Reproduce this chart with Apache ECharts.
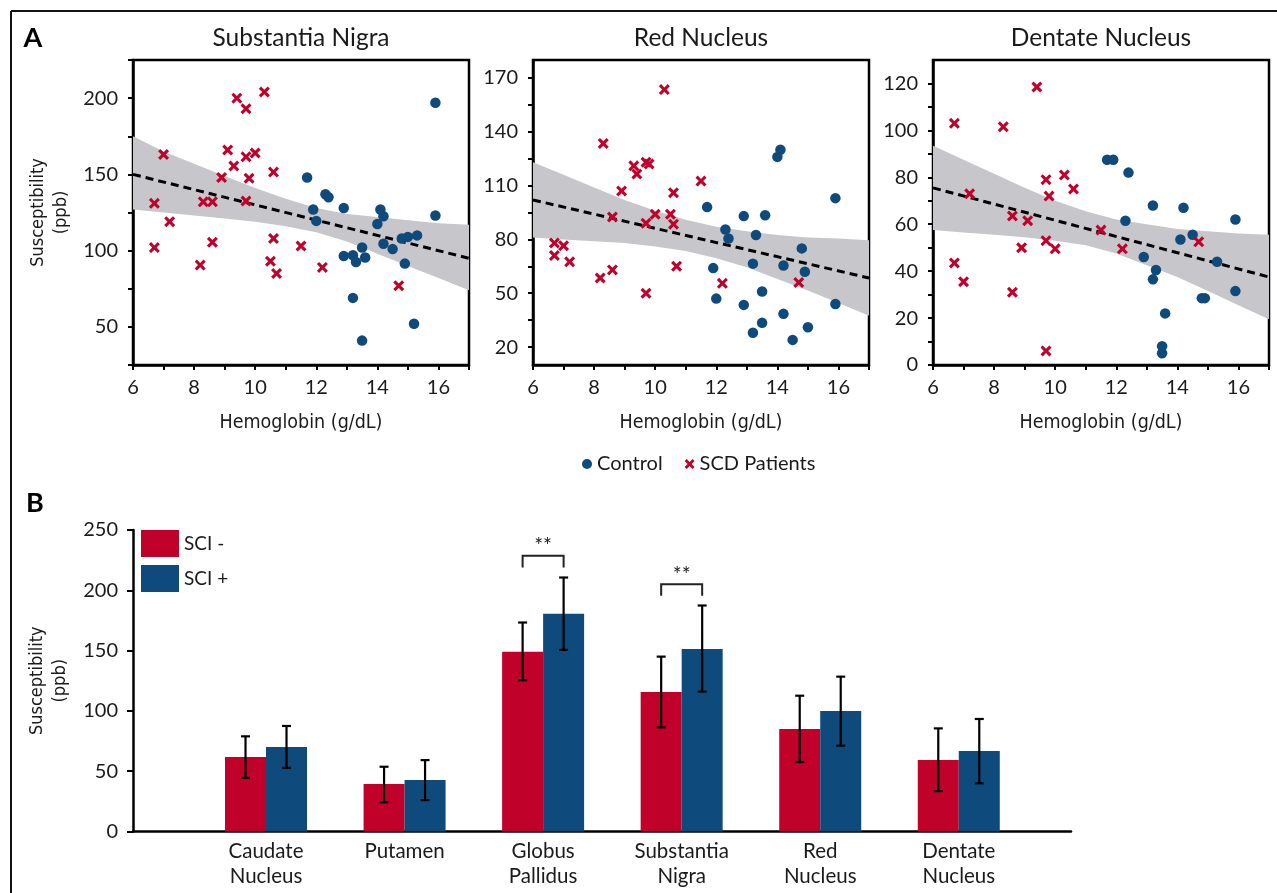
<!DOCTYPE html>
<html>
<head>
<meta charset="utf-8">
<script src="https://cdn.jsdelivr.net/npm/echarts@6/dist/echarts.min.js"></script>
<style>
  html, body { margin: 0; padding: 0; background: #fff; }
  #chart { width: 1277px; height: 893px; }
</style>
</head>
<body>
<div id="chart"></div>
<script>
// ---------------- DATA ----------------
const panelTitles = ['Substantia Nigra', 'Red Nucleus', 'Dentate Nucleus'];
const xAxisName = 'Hemoglobin (g/dL)';
const yAxisName = 'Susceptibility\n(ppb)';
const seriesNames = ['Control', 'SCD Patients'];

// Substantia Nigra  [hemoglobin, susceptibility]
const snControl = [[15.9,197],[11.7,148],[12.3,137],[12.4,135],[11.9,127],[12.9,128],[14.1,127],[14.2,122.5],[15.9,123],[12.0,119.5],[14.0,117.5],[15.3,110],[15.0,109],[14.8,108],[13.5,102],[14.2,104.5],[14.5,101],[12.9,96.5],[13.2,97],[13.3,92.5],[13.6,95.5],[14.9,91.5],[13.2,69],[15.2,52],[13.5,41]];
const snSCD = [[10.3,204],[9.4,200],[9.7,193],[7.0,163],[9.1,166],[10.0,164],[9.7,161.5],[9.3,155.5],[10.6,151.5],[8.9,148],[9.8,147.5],[6.7,131],[8.3,132],[8.6,132],[9.7,132.5],[7.2,119],[8.6,105.5],[10.6,108],[11.5,103],[6.7,102],[8.2,90.5],[10.5,93],[12.2,89],[10.7,85],[14.7,77]];
// Red Nucleus
const rnControl = [[14.1,130],[14.0,126],[15.9,103],[11.7,98],[12.9,93],[13.6,93.5],[12.3,85.5],[12.4,80.5],[13.3,82.5],[14.8,75],[11.9,64],[13.2,66.5],[14.2,65.5],[14.9,62],[12.0,47],[13.5,51],[12.9,43.5],[15.9,44],[14.2,38.5],[13.5,33.5],[15.0,31],[13.2,28],[14.5,24]];
const rnSCD = [[10.3,163.5],[8.3,133.5],[9.3,121],[9.7,123],[9.8,122],[9.4,116.5],[11.5,112.5],[8.9,107],[10.6,106],[8.6,92.5],[10.0,94],[10.5,94],[9.7,89],[10.6,88.5],[6.7,78],[7.0,76.5],[6.7,71],[7.2,67.5],[10.7,65],[8.6,63],[8.2,58.5],[12.2,55.5],[14.7,56],[9.7,50]];
// Dentate Nucleus
const dnControl = [[11.7,87.5],[11.9,87.5],[12.4,82],[13.2,68],[14.2,67],[15.9,62],[12.3,61.5],[14.5,55.5],[14.1,53.5],[12.9,46],[15.3,44],[13.3,40.5],[13.2,36.5],[15.9,31.5],[14.8,28.5],[14.9,28.5],[13.6,22],[13.5,8],[13.5,5]];
const dnSCD = [[9.4,118.5],[6.7,103],[8.3,101.5],[10.3,81],[9.7,79],[10.6,75],[7.2,73],[9.8,72],[8.6,63.5],[9.1,61.5],[11.5,57.5],[9.7,53],[14.7,52.5],[8.9,50],[10.0,49.5],[12.2,49.5],[6.7,43.5],[7.0,35.5],[8.6,31],[9.7,6]];

// regression fit lines (end points) and confidence bands
const bandX = [6,7,8,9,10,11,12,13,14,15,16,17];
const snFit = [[6,150],[17,95]];
const snBandLower = [127,125,123,121,119,116,112,106,98,90,82,74];
const snBandUpper = [175,165,157,149,141,134,128,124,122,120,118,117];
const rnFit = [[6,102],[17,58.5]];
const rnBandLower = [81,80,79,78,76,73.5,69.5,64.5,58,51.5,44.5,37.5];
const rnBandUpper = [123,116,109,102,96,91,87,84.5,82.5,81,80.5,79.5];
const dnFit = [[6,75.5],[17,37.5]];
const dnBandLower = [57.5,56.5,55.5,54.5,53,51,47.5,42.5,37.5,31.5,25.5,19.5];
const dnBandUpper = [93.5,87.5,81.5,75.5,70,65.5,62,60,58,57,56,55.5];

// axis settings
const xTickValues = [6,8,10,12,14,16];
const yRanges = [[25,225],[10,180],[0,130]];
const yLabelValues = [[50,100,150,200],[20,50,80,110,140,170],[0,20,40,60,80,100,120]];
const yTickValues = [[25,50,75,100,125,150,175,200,225],[20,35,50,65,80,95,110,125,140,155,170],[0,10,20,30,40,50,60,70,80,90,100,110,120]];

// Panel B
const barCategories = ['Caudate\nNucleus','Putamen','Globus\nPallidus','Substantia\nNigra','Red\nNucleus','Dentate\nNucleus'];
const barPositions = [1,2,3,4,5,6];
const barGroupNames = ['SCI -','SCI +'];
const sciNeg = [61.7,39.3,149,115.7,85,59.3];
const sciNegErr = [[44.5,78.9],[24.3,53.7],[125.4,173.3],[86.4,145],[57.6,112.6],[33.5,85.5]];
const sciPos = [70,42.6,180.5,151.4,99.9,66.7];
const sciPosErr = [[52.8,87.5],[26,59.2],[150.6,210.6],[116,187.4],[71.1,128.4],[40,93.3]];
// significance brackets: [position, top level, leg bottom]
const sigBrackets = [[3,228.7,219],[4,205,195.4]];
const sigLabel = '**';

// ---------------- STYLE ----------------
const RED = '#C0022B';
const BLUE = '#0F4A7D';
const BAND = '#C7C6CA';
const TXT = '#1a1a1a';
const FONT = "Lato, 'Open Sans', 'Noto Sans', sans-serif";
const NARROW = "'Liberation Sans Narrow', 'DejaVu Sans Condensed', 'Noto Sans', sans-serif";
const XSYM = 'path://M2,0 L5,3 L8,0 L10,2 L7,5 L10,8 L8,10 L5,7 L2,10 L0,8 L3,5 L0,2 Z';

const zip = (xs, ys) => xs.map((x, i) => [x, ys[i]]);

const panels = [
  {control: snControl, scd: snSCD, fit: snFit, lo: snBandLower, up: snBandUpper},
  {control: rnControl, scd: rnSCD, fit: rnFit, lo: rnBandLower, up: rnBandUpper},
  {control: dnControl, scd: dnSCD, fit: dnFit, lo: dnBandLower, up: dnBandUpper}
];
const gridLefts = [133, 533, 933];

function bandRender(rows) {
  // draws the whole confidence band once, from rows [x, lower, upper]
  return function (params, api) {
    if (params.dataIndex !== 0) return null;
    const upper = rows.map(r => api.coord([r[0], r[2]]));
    const lower = rows.map(r => api.coord([r[0], r[1]])).reverse();
    return {type: 'polygon', shape: {points: upper.concat(lower)}, style: {fill: BAND, stroke: null}};
  };
}

const grids = [], xAxes = [], yAxes = [], series = [];
panels.forEach((p, i) => {
  grids.push({left: gridLefts[i], top: 60, width: 336, height: 305, show: true,
    borderColor: '#000', borderWidth: 2.5, backgroundColor: 'transparent'});
  xAxes.push({
    type: 'value', gridIndex: i, min: 6, max: 17, interval: 1,
    axisLine: {show: true, lineStyle: {color: '#000', width: 2.5}},
    axisTick: {show: true, length: 5, lineStyle: {color: '#000', width: 2}},
    axisLabel: {color: TXT, fontSize: 20, fontFamily: FONT, margin: 13,
      formatter: v => xTickValues.indexOf(v) >= 0 ? String(v) : ''},
    splitLine: {show: false},
    name: xAxisName, nameLocation: 'middle', nameGap: 48,
    nameTextStyle: {color: TXT, fontSize: 19.5, fontFamily: NARROW}
  });
  const ya = {
    type: 'value', gridIndex: i, min: yRanges[i][0], max: yRanges[i][1],
    axisLine: {show: true, lineStyle: {color: '#000', width: 2.5}},
    axisTick: {show: true, length: 5, lineStyle: {color: '#000', width: 2}, customValues: yTickValues[i]},
    axisLabel: {color: TXT, fontSize: 20, fontFamily: FONT, margin: 15, customValues: yLabelValues[i]},
    splitLine: {show: false}
  };
  if (i === 0) {
    ya.name = yAxisName; ya.nameLocation = 'middle'; ya.nameRotate = 90; ya.nameGap = 60;
    ya.nameTextStyle = {color: TXT, fontSize: 18, fontFamily: NARROW, lineHeight: 23};
  }
  yAxes.push(ya);
  const rows = bandX.map((x, k) => [x, p.lo[k], p.up[k]]);
  series.push({type: 'custom', xAxisIndex: i, yAxisIndex: i, data: rows, encode: {x: 0, y: [1, 2]},
    renderItem: bandRender(rows), silent: true, z: 1, clip: true});
  series.push({type: 'line', xAxisIndex: i, yAxisIndex: i, data: p.fit, symbol: 'none',
    lineStyle: {color: '#000', width: 3, type: [8, 5]}, silent: true, z: 2});
  series.push({type: 'scatter', name: seriesNames[0], xAxisIndex: i, yAxisIndex: i, data: p.control,
    symbol: 'circle', symbolSize: 10.5, itemStyle: {color: BLUE, opacity: 1}, z: 3});
  series.push({type: 'scatter', name: seriesNames[1], xAxisIndex: i, yAxisIndex: i, data: p.scd,
    symbol: XSYM, symbolSize: 11, itemStyle: {color: RED, opacity: 1}, z: 3});
});

// Panel B grid
grids.push({left: 133, top: 530, width: 938, height: 301.5});
xAxes.push({
  type: 'value', gridIndex: 3, min: 0.04, max: 6.81,
  axisLine: {show: true, onZero: false, lineStyle: {color: '#000', width: 2.5}},
  axisTick: {show: false},
  axisLabel: {color: TXT, fontSize: 20.5, fontFamily: FONT, lineHeight: 25, margin: 7,
    customValues: barPositions,
    formatter: v => { const k = barPositions.indexOf(v); return k >= 0 ? barCategories[k] : ''; }},
  splitLine: {show: false}
});
yAxes.push({
  type: 'value', gridIndex: 3, min: 0, max: 250, interval: 50,
  axisLine: {show: true, lineStyle: {color: '#000', width: 2.5}},
  axisTick: {show: true, length: 6, lineStyle: {color: '#000', width: 2}},
  axisLabel: {color: TXT, fontSize: 20, fontFamily: FONT, margin: 15},
  splitLine: {show: false},
  name: yAxisName, nameLocation: 'middle', nameRotate: 90, nameGap: 60,
  nameTextStyle: {color: TXT, fontSize: 18, fontFamily: NARROW, lineHeight: 23}
});

const BAR_W = 41;
series.push({type: 'bar', name: barGroupNames[0], xAxisIndex: 3, yAxisIndex: 3, data: zip(barPositions, sciNeg),
  barWidth: BAR_W, barGap: '0%', itemStyle: {color: RED}, z: 2});
series.push({type: 'bar', name: barGroupNames[1], xAxisIndex: 3, yAxisIndex: 3, data: zip(barPositions, sciPos),
  barWidth: BAR_W, barGap: '0%', itemStyle: {color: BLUE}, z: 2});

function errRender(offset) {
  return function (params, api) {
    const x = api.value(0);
    const a = api.coord([x, api.value(1)]);
    const b = api.coord([x, api.value(2)]);
    const cx = a[0] + offset, cap = 4.5;
    const st = {stroke: '#000', lineWidth: 2.2};
    return {type: 'group', children: [
      {type: 'line', shape: {x1: cx, y1: a[1], x2: cx, y2: b[1]}, style: st},
      {type: 'line', shape: {x1: cx - cap, y1: a[1], x2: cx + cap, y2: a[1]}, style: st},
      {type: 'line', shape: {x1: cx - cap, y1: b[1], x2: cx + cap, y2: b[1]}, style: st}
    ]};
  };
}
series.push({type: 'custom', xAxisIndex: 3, yAxisIndex: 3, silent: true, z: 5,
  data: barPositions.map((x, i) => [x, sciNegErr[i][0], sciNegErr[i][1]]),
  encode: {x: 0, y: [1, 2]}, renderItem: errRender(-BAR_W / 2)});
series.push({type: 'custom', xAxisIndex: 3, yAxisIndex: 3, silent: true, z: 5,
  data: barPositions.map((x, i) => [x, sciPosErr[i][0], sciPosErr[i][1]]),
  encode: {x: 0, y: [1, 2]}, renderItem: errRender(BAR_W / 2)});
series.push({type: 'custom', xAxisIndex: 3, yAxisIndex: 3, silent: true, z: 5,
  data: sigBrackets, encode: {x: 0, y: [1, 2]},
  renderItem: function (params, api) {
    const x = api.value(0);
    const t = api.coord([x, api.value(1)]);
    const bt = api.coord([x, api.value(2)]);
    const l = t[0] - BAR_W / 2, r = t[0] + BAR_W / 2;
    return {type: 'group', children: [
      {type: 'polyline', shape: {points: [[l, bt[1]], [l, t[1]], [r, t[1]], [r, bt[1]]]},
        style: {stroke: '#222', lineWidth: 2, fill: null}},
      {type: 'text', x: t[0], y: t[1] + 1,
        style: {text: sigLabel, fontSize: 21, fontFamily: FONT, fill: '#222', align: 'center', verticalAlign: 'bottom'}}
    ]};
  }});

const option = {
  backgroundColor: '#fff',
  animation: false,
  grid: grids, xAxis: xAxes, yAxis: yAxes, series: series,
  legend: [
    {data: [{name: seriesNames[0], icon: 'circle'}, {name: seriesNames[1], icon: XSYM}],
      left: 582, top: 454, itemWidth: 10, itemHeight: 10, itemGap: 22, padding: 0,
      textStyle: {color: TXT, fontSize: 20, fontFamily: FONT}},
    {data: barGroupNames, orient: 'vertical', left: 141, top: 530, itemWidth: 38, itemHeight: 27,
      itemGap: 8, icon: 'rect', padding: 0,
      textStyle: {color: TXT, fontSize: 19, fontFamily: FONT}}
  ],
  graphic: [
    {type: 'line', shape: {x1: 11, y1: 11, x2: 1277, y2: 11}, style: {stroke: '#111', lineWidth: 2}},
    {type: 'line', shape: {x1: 11, y1: 11, x2: 11, y2: 893}, style: {stroke: '#111', lineWidth: 2}},
    {type: 'text', x: 33, y: 38, style: {text: 'A', fontSize: 27, fontWeight: 'bold', fontFamily: FONT, fill: '#000', align: 'center', verticalAlign: 'middle'}},
    {type: 'text', x: 35, y: 503, style: {text: 'B', fontSize: 27, fontWeight: 'bold', fontFamily: FONT, fill: '#000', align: 'center', verticalAlign: 'middle'}},
    {type: 'text', x: 301, y: 38, style: {text: panelTitles[0], fontSize: 24.5, fontFamily: FONT, fill: TXT, align: 'center', verticalAlign: 'middle'}},
    {type: 'text', x: 701, y: 38, style: {text: panelTitles[1], fontSize: 24.5, fontFamily: FONT, fill: TXT, align: 'center', verticalAlign: 'middle'}},
    {type: 'text', x: 1101, y: 38, style: {text: panelTitles[2], fontSize: 24.5, fontFamily: FONT, fill: TXT, align: 'center', verticalAlign: 'middle'}}
  ]
};

const chart = echarts.init(document.getElementById('chart'), null, {renderer: 'canvas'});
chart.setOption(option);
</script>
</body>
</html>
